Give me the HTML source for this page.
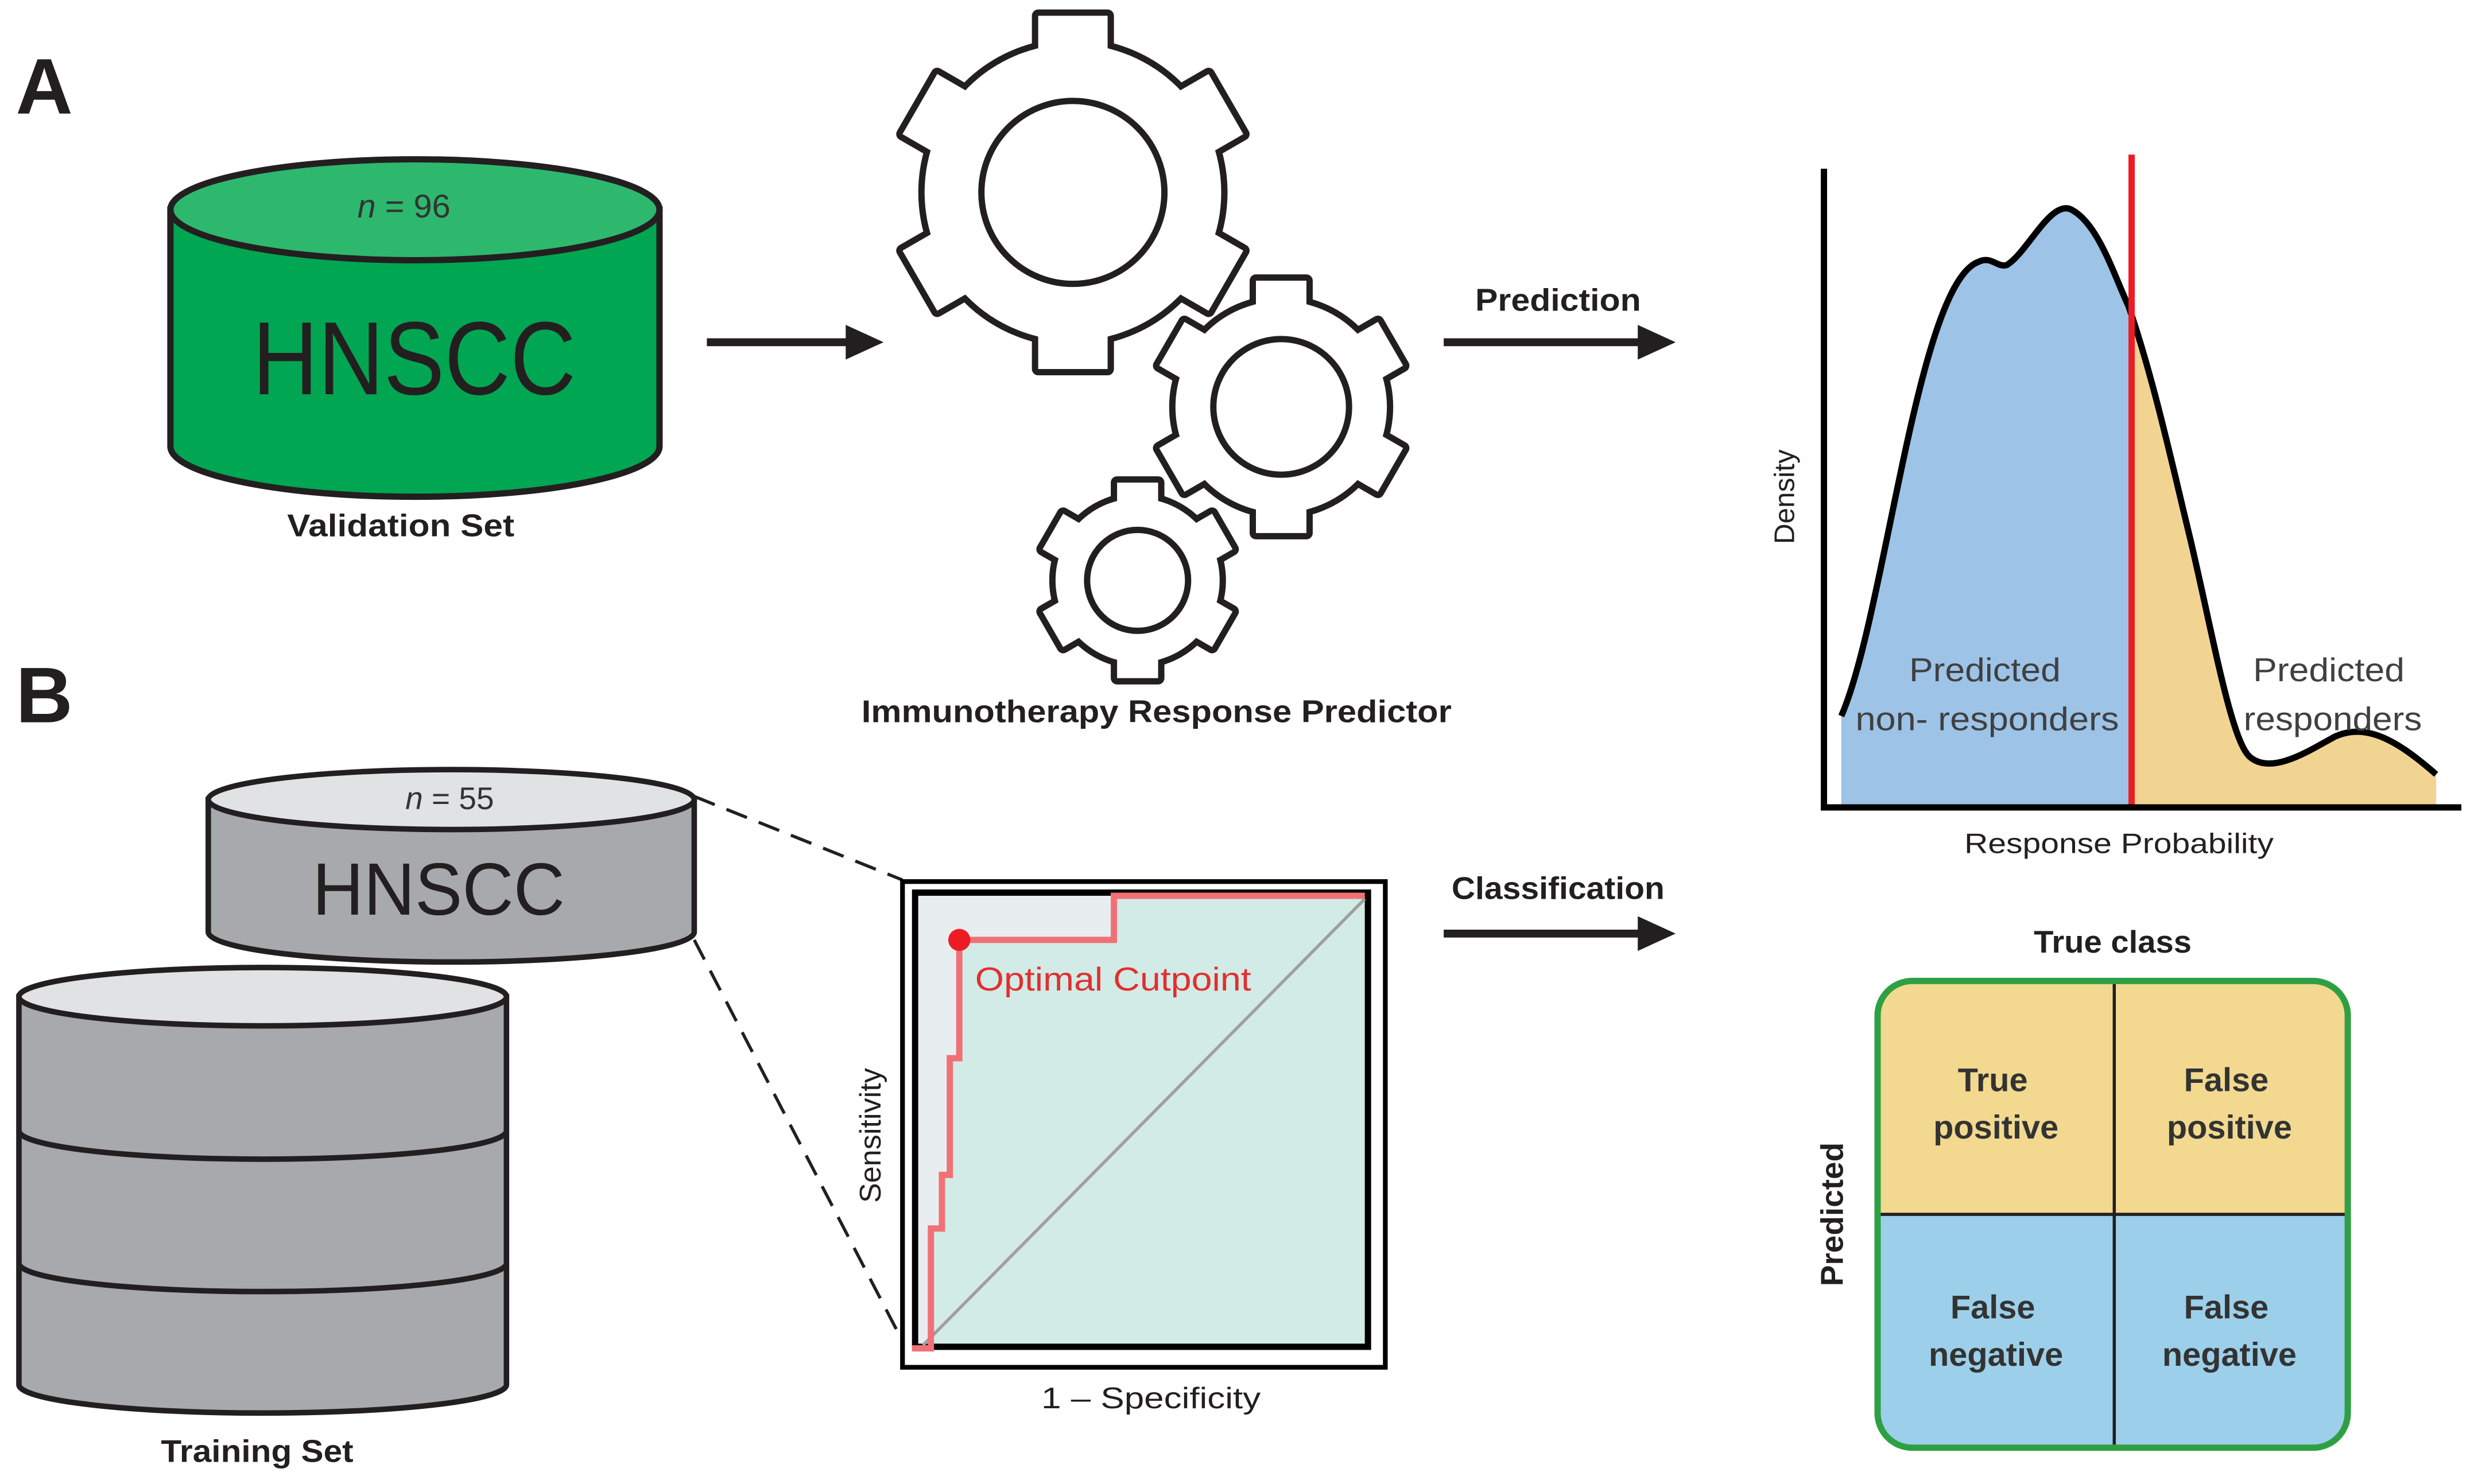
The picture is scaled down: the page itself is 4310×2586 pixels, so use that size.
<!DOCTYPE html>
<html><head><meta charset="utf-8"><style>
html,body{margin:0;padding:0;background:#fff;}
svg{display:block;}
text{font-family:"Liberation Sans",sans-serif;}
</style></head><body>
<svg width="4310" height="2586" viewBox="0 0 1568 941" preserveAspectRatio="none" xmlns="http://www.w3.org/2000/svg">
<defs>
<g id="gearBig">
<circle r="94"/>
<rect x="-22" y="-112" width="44" height="30"/><rect x="-22" y="-112" width="44" height="30" transform="rotate(60)"/>
<rect x="-22" y="-112" width="44" height="30" transform="rotate(120)"/><rect x="-22" y="-112" width="44" height="30" transform="rotate(180)"/>
<rect x="-22" y="-112" width="44" height="30" transform="rotate(240)"/><rect x="-22" y="-112" width="44" height="30" transform="rotate(300)"/>
</g>
<g id="gearMed">
<circle r="67"/>
<rect x="-16" y="-80" width="32" height="22"/><rect x="-16" y="-80" width="32" height="22" transform="rotate(60)"/>
<rect x="-16" y="-80" width="32" height="22" transform="rotate(120)"/><rect x="-16" y="-80" width="32" height="22" transform="rotate(180)"/>
<rect x="-16" y="-80" width="32" height="22" transform="rotate(240)"/><rect x="-16" y="-80" width="32" height="22" transform="rotate(300)"/>
</g>
<g id="gearSm">
<circle r="52"/>
<rect x="-13" y="-62" width="26" height="18"/><rect x="-13" y="-62" width="26" height="18" transform="rotate(60)"/>
<rect x="-13" y="-62" width="26" height="18" transform="rotate(120)"/><rect x="-13" y="-62" width="26" height="18" transform="rotate(180)"/>
<rect x="-13" y="-62" width="26" height="18" transform="rotate(240)"/><rect x="-13" y="-62" width="26" height="18" transform="rotate(300)"/>
</g>
</defs>

<text x="10" y="72" font-size="50" font-weight="bold" fill="#231f20">A</text>
<text x="10" y="458" font-size="50" font-weight="bold" fill="#231f20">B</text>

<!-- green cylinder -->
<path d="M108,133 V283 A155,32 0 0 0 418,283 V133 Z" fill="#00a651" stroke="#231f20" stroke-width="4"/>
<ellipse cx="263" cy="133" rx="155" ry="32" fill="#2db86e" stroke="#231f20" stroke-width="4"/>
<text x="256" y="138" font-size="21" text-anchor="middle" fill="#333"><tspan font-style="italic">n</tspan> = 96</text>
<text x="160" y="250" font-size="66" textLength="205" lengthAdjust="spacingAndGlyphs" fill="#231f20">HNSCC</text>
<text x="182" y="340" font-size="20" font-weight="bold" textLength="144" lengthAdjust="spacingAndGlyphs" fill="#231f20">Validation Set</text>

<!-- arrows -->
<g stroke="#231f20" stroke-width="5" fill="#231f20">
<line x1="448" y1="217" x2="540" y2="217"/><path d="M536,206 L560,217 L536,228 Z" stroke="none"/>
<line x1="915" y1="217" x2="1042" y2="217"/><path d="M1038,206 L1062,217 L1038,228 Z" stroke="none"/>
<line x1="915" y1="592" x2="1042" y2="592"/><path d="M1038,581 L1062,592 L1038,603 Z" stroke="none"/>
</g>
<text x="935" y="197" font-size="20" font-weight="bold" textLength="105" lengthAdjust="spacingAndGlyphs" fill="#231f20">Prediction</text>
<text x="920" y="570" font-size="20" font-weight="bold" textLength="135" lengthAdjust="spacingAndGlyphs" fill="#231f20">Classification</text>

<!-- gears -->
<g transform="translate(721,368)">
<use href="#gearSm" fill="#231f20" stroke="#231f20" stroke-width="8" stroke-linejoin="round"/>
<use href="#gearSm" fill="#fff"/>
<circle r="32" fill="#fff" stroke="#231f20" stroke-width="4"/>
</g>
<g transform="translate(812,258)">
<use href="#gearMed" fill="#231f20" stroke="#231f20" stroke-width="8" stroke-linejoin="round"/>
<use href="#gearMed" fill="#fff"/>
<circle r="43" fill="#fff" stroke="#231f20" stroke-width="4"/>
</g>
<g transform="translate(680,122)">
<use href="#gearBig" fill="#231f20" stroke="#231f20" stroke-width="8" stroke-linejoin="round"/>
<use href="#gearBig" fill="#fff"/>
<circle r="58" fill="#fff" stroke="#231f20" stroke-width="4"/>
</g>
<text x="546" y="458" font-size="20" font-weight="bold" textLength="374" lengthAdjust="spacingAndGlyphs" fill="#231f20">Immunotherapy Response Predictor</text>

<!-- density plot -->
<clipPath id="cl"><rect x="1150" y="90" width="201" height="430"/></clipPath>
<clipPath id="cr"><rect x="1351" y="90" width="210" height="430"/></clipPath>
<path id="dens" d="M1167,454 C1195,390 1215,180 1254,166 C1262,162 1266,170 1272,168 C1285,160 1300,126 1313,133 C1330,142 1340,175 1349,194 C1365,240 1378,300 1388,341 C1402,400 1414,470 1426,480 C1440,492 1465,475 1480,467 C1500,458 1520,470 1544,491" fill="none"/>
<path d="M1167,454 C1195,390 1215,180 1254,166 C1262,162 1266,170 1272,168 C1285,160 1300,126 1313,133 C1330,142 1340,175 1349,194 C1365,240 1378,300 1388,341 C1402,400 1414,470 1426,480 C1440,492 1465,475 1480,467 C1500,458 1520,470 1544,491 L1544,512 L1167,512 Z" fill="#9dc3e6" clip-path="url(#cl)"/>
<path d="M1167,454 C1195,390 1215,180 1254,166 C1262,162 1266,170 1272,168 C1285,160 1300,126 1313,133 C1330,142 1340,175 1349,194 C1365,240 1378,300 1388,341 C1402,400 1414,470 1426,480 C1440,492 1465,475 1480,467 C1500,458 1520,470 1544,491 L1544,512 L1167,512 Z" fill="#f2d492" clip-path="url(#cr)"/>
<use href="#dens" stroke="#000" stroke-width="4"/>
<line x1="1351" y1="98" x2="1351" y2="512" stroke="#ed1c24" stroke-width="4"/>
<line x1="1156" y1="107" x2="1156" y2="514" stroke="#000" stroke-width="4"/>
<line x1="1154" y1="512" x2="1560" y2="512" stroke="#000" stroke-width="4"/>
<text transform="translate(1137,315) rotate(-90)" font-size="18" text-anchor="middle" fill="#231f20">Density</text>
<g font-size="21" fill="#404040">
<text x="1210" y="432" textLength="96" lengthAdjust="spacingAndGlyphs">Predicted</text>
<text x="1176" y="463" textLength="167" lengthAdjust="spacingAndGlyphs">non- responders</text>
<text x="1428" y="432" textLength="96" lengthAdjust="spacingAndGlyphs">Predicted</text>
<text x="1422" y="463" textLength="113" lengthAdjust="spacingAndGlyphs">responders</text>
</g>
<text x="1245" y="541" font-size="18" textLength="196" lengthAdjust="spacingAndGlyphs" fill="#231f20">Response Probability</text>

<!-- confusion matrix -->
<text x="1289" y="604" font-size="20" font-weight="bold" textLength="100" lengthAdjust="spacingAndGlyphs" fill="#231f20">True class</text>
<clipPath id="cm"><rect x="1190" y="622" width="298" height="296" rx="22"/></clipPath>
<g clip-path="url(#cm)">
<rect x="1190" y="622" width="298" height="148" fill="#f2d98f"/>
<rect x="1190" y="770" width="298" height="148" fill="#9ccfe9"/>
</g>
<line x1="1340" y1="622" x2="1340" y2="918" stroke="#231f20" stroke-width="2"/>
<line x1="1190" y1="770" x2="1488" y2="770" stroke="#231f20" stroke-width="2"/>
<rect x="1190" y="622" width="298" height="296" rx="22" fill="none" stroke="#2ea043" stroke-width="4"/>
<g font-size="21" font-weight="bold" fill="#333" text-anchor="middle">
<text x="1263" y="692">True</text><text x="1265" y="722">positive</text>
<text x="1411" y="692">False</text><text x="1413" y="722">positive</text>
<text x="1263" y="836">False</text><text x="1265" y="866">negative</text>
<text x="1411" y="836">False</text><text x="1413" y="866">negative</text>
</g>
<text transform="translate(1168,770) rotate(-90)" font-size="20" font-weight="bold" text-anchor="middle" fill="#231f20">Predicted</text>

<!-- dashed lines -->
<line x1="440" y1="505" x2="572" y2="558" stroke="#231f20" stroke-width="2" stroke-dasharray="14,8"/>
<line x1="440" y1="596" x2="578" y2="862" stroke="#231f20" stroke-width="2" stroke-dasharray="14,8"/>

<!-- grey cylinders -->
<path d="M12,632 V878 A154.5,18 0 0 0 321,878 V632 Z" fill="#a7a9ac" stroke="#231f20" stroke-width="3.5"/>
<path d="M12,717 A154.5,18 0 0 0 321,717" fill="none" stroke="#231f20" stroke-width="3.5"/>
<path d="M12,801 A154.5,18 0 0 0 321,801" fill="none" stroke="#231f20" stroke-width="3.5"/>
<ellipse cx="166.5" cy="632" rx="154.5" ry="18.5" fill="#e0e2e4" stroke="#231f20" stroke-width="3.5"/>
<text x="102" y="927" font-size="20" font-weight="bold" textLength="122" lengthAdjust="spacingAndGlyphs" fill="#231f20">Training Set</text>

<path d="M132,507 V591 A154,19 0 0 0 440,591 V507 Z" fill="#a7a9ac" stroke="#231f20" stroke-width="3.5"/>
<ellipse cx="286" cy="507" rx="154" ry="19" fill="#e0e2e4" stroke="#231f20" stroke-width="3.5"/>
<text x="285" y="513" font-size="20" text-anchor="middle" fill="#333"><tspan font-style="italic">n</tspan> = 55</text>
<text x="198" y="580" font-size="47" textLength="160" lengthAdjust="spacingAndGlyphs" fill="#231f20">HNSCC</text>

<!-- ROC -->
<rect x="572" y="559" width="306" height="308" fill="#fff" stroke="#000" stroke-width="3"/>
<rect x="580" y="566" width="287" height="288" fill="#d3ebe6" stroke="#000" stroke-width="4"/>
<path d="M582,852 L582,568 L706,568 L706,596 L608,596 L608,671 L602,671 L602,745 L597,745 L597,779 L590,779 L590,852 Z" fill="#e8edf0"/>
<line x1="585" y1="853" x2="865" y2="570" stroke="#a0a0a0" stroke-width="2"/>
<path d="M578,855 L590,855 L590,779 L597,779 L597,745 L602,745 L602,671 L608,671 L608,596 L706,596 L706,568 L865,568" fill="none" stroke="#f07175" stroke-width="4"/>
<circle cx="608" cy="596" r="7" fill="#ed1c24"/>
<text x="618" y="628" font-size="21" textLength="175" lengthAdjust="spacingAndGlyphs" fill="#e03030">Optimal Cutpoint</text>
<text transform="translate(558,720) rotate(-90)" font-size="19" text-anchor="middle" fill="#231f20">Sensitivity</text>
<text x="660" y="893" font-size="19" textLength="139" lengthAdjust="spacingAndGlyphs" fill="#231f20">1 – Specificity</text>
</svg>
</body></html>
